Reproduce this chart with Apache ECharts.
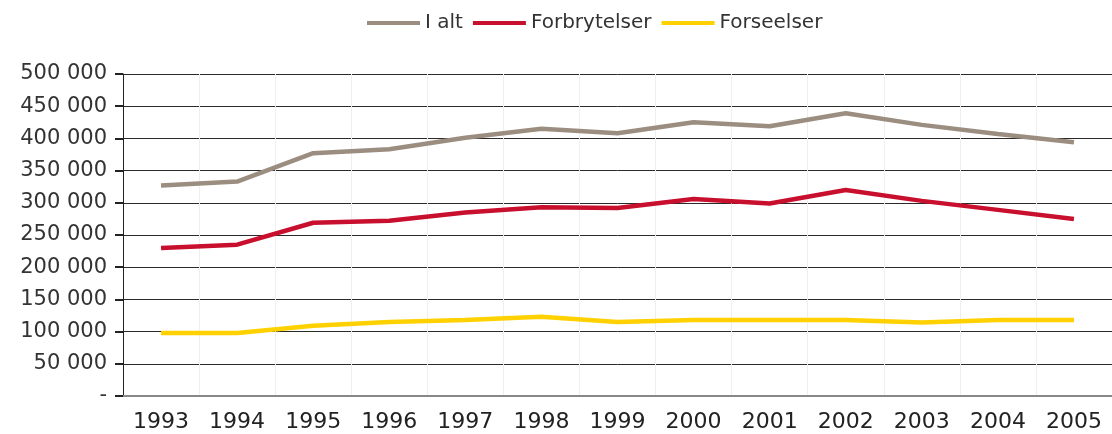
<!DOCTYPE html>
<html><head><meta charset="utf-8">
<script src="https://cdn.jsdelivr.net/npm/echarts@6/dist/echarts.min.js"></script>
<style>html,body{margin:0;padding:0;background:#fff}#c{width:1112px;height:434px}</style>
</head><body><div id="c"></div>
<script>
const years = ['1993','1994','1995','1996','1997','1998','1999','2000','2001','2002','2003','2004','2005'];
const iAlt = [327000,333000,377000,383000,401000,415000,408000,425000,419000,439000,421000,407000,394000];
const forbrytelser = [230000,235000,269000,272000,285000,293000,292000,306000,299000,320000,303000,289000,275000];
const forseelser = [98000,98000,109000,115000,118000,123000,115000,118000,118000,118000,114000,118000,118000];
const seriesNames = ['I alt','Forbrytelser','Forseelser'];
const colors = ['#9b8e80','#c8102e','#ffd100'];

const chart = echarts.init(document.getElementById('c'));
const fmt = v => v === 0 ? '-' : String(v).replace(/\B(?=(\d{3})+(?!\d))/g, ' ');
chart.setOption({
  animation: false,
  color: colors,
  legend: {
    top: 8, left: 362, itemWidth: 53, itemHeight: 4, itemGap: 10,
    icon: 'rect',
    textStyle: {fontFamily: 'DejaVu Sans', fontSize: 20, color: '#333'},
    data: seriesNames
  },
  grid: {left: 123, right: 0, top: 74, bottom: 38, containLabel: false},
  xAxis: {
    type: 'category', data: years, boundaryGap: true,
    axisLine: {lineStyle: {color: '#888', width: 2}},
    axisTick: {alignWithLabel: true, length: 7, lineStyle: {color: '#222', width: 2}},
    axisLabel: {fontFamily: 'DejaVu Sans', fontSize: 22, color: '#222', margin: 15},
    splitLine: {show: true, lineStyle: {color: '#eeeeee', width: 1}}
  },
  yAxis: {
    type: 'value', min: 0, max: 500000, interval: 50000,
    axisLine: {show: true, lineStyle: {color: '#222', width: 1}},
    axisTick: {show: true, length: 8, lineStyle: {color: '#222', width: 2}},
    axisLabel: {fontFamily: 'DejaVu Sans', fontSize: 21, color: '#333', margin: 16, formatter: fmt},
    splitLine: {lineStyle: {color: '#2a2a2a', width: 1}}
  },
  series: [
    {name: seriesNames[0], type: 'line', data: iAlt, symbol: 'none', lineStyle: {width: 4.5, color: colors[0]}},
    {name: seriesNames[1], type: 'line', data: forbrytelser, symbol: 'none', lineStyle: {width: 4.5, color: colors[1]}},
    {name: seriesNames[2], type: 'line', data: forseelser, symbol: 'none', lineStyle: {width: 4.5, color: colors[2]}}
  ]
});
</script></body></html>
